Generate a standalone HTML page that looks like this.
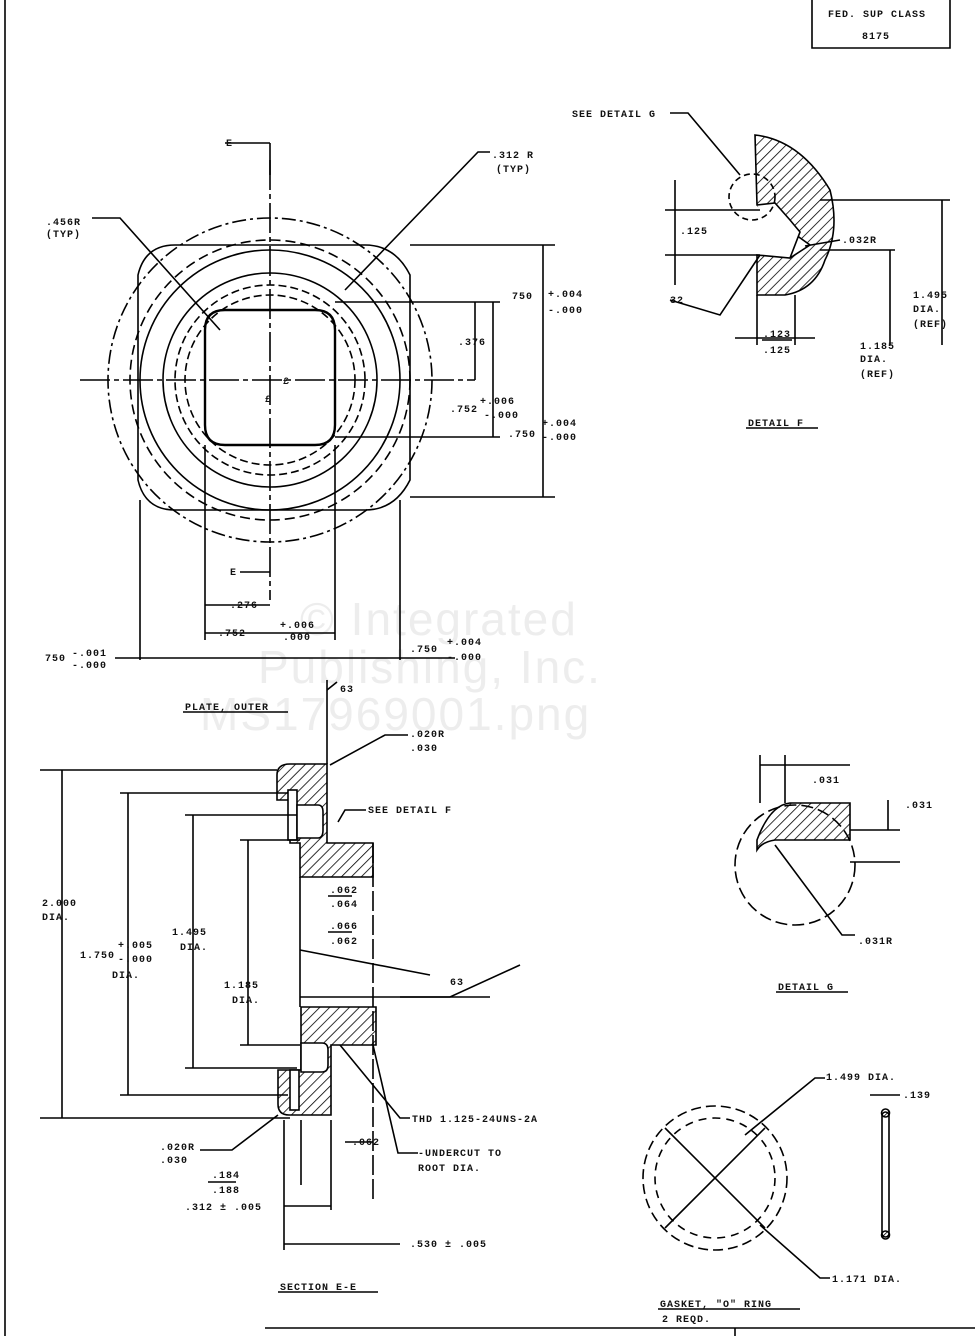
<!DOCTYPE html>
<html><head><style>
html,body{margin:0;padding:0;background:#fff}
svg{display:block}
text{font-family:"Liberation Mono",monospace;font-size:10px;fill:#111;letter-spacing:1px;font-weight:bold}
.wm{font-family:"Liberation Sans",sans-serif;font-size:46px;fill:#ededed;letter-spacing:2px;font-weight:normal}
</style></head><body>
<svg width="975" height="1336" viewBox="0 0 975 1336" xmlns="http://www.w3.org/2000/svg" fill="none" stroke="#000" stroke-width="1.6">
<defs>
<pattern id="h" width="7" height="7" patternUnits="userSpaceOnUse" patternTransform="rotate(45)">
<line x1="0" y1="0" x2="0" y2="7" stroke="#000" stroke-width="1.6"/></pattern>
</defs>
<text class="wm" x="300" y="635" stroke="none">© Integrated</text>
<text class="wm" x="258" y="683" stroke="none">Publishing, Inc.</text>
<text class="wm" x="200" y="730" stroke="none">MS17969001.png</text>

<line x1="5" y1="0" x2="5" y2="1336"/>
<path d="M812 0V48H950V0"/>
<text x="828" y="17" stroke="none">FED. SUP CLASS</text>
<text x="862" y="39" stroke="none">8175</text>
<line x1="265" y1="1328" x2="975" y2="1328"/>
<line x1="735" y1="1328" x2="735" y2="1336"/>

<g>
<circle cx="270" cy="380" r="162" stroke-dasharray="14,4,3,4"/>
<circle cx="270" cy="380" r="130"/>
<path d="M175 245H365Q395 245 410 275V480Q395 510 365 510H175Q145 510 138 480V275Q145 245 175 245Z"/>
<circle cx="270" cy="380" r="107"/>
<circle cx="270" cy="380" r="95" stroke-dasharray="8,4"/>
<circle cx="270" cy="380" r="85" stroke-dasharray="8,4"/>
<circle cx="270" cy="380" r="140" stroke-dasharray="10,5"/>
<path d="M225 310H315Q335 310 335 330V425Q335 445 315 445H225Q205 445 205 425V330Q205 310 225 310Z" stroke-width="2.4"/>
<line x1="80" y1="380" x2="475" y2="380" stroke-dasharray="30,4,5,4"/>
<line x1="270" y1="160" x2="270" y2="600" stroke-dasharray="30,4,5,4"/>
<line x1="225" y1="143" x2="270" y2="143"/><line x1="270" y1="143" x2="270" y2="175"/>
<text x="226" y="146" stroke="none">E</text>
<line x1="240" y1="572" x2="270" y2="572"/><text x="230" y="575" stroke="none">E</text>
<text x="283" y="384" stroke="none">£</text><text x="265" y="402" stroke="none">£</text>
<line x1="410" y1="245" x2="555" y2="245"/><line x1="410" y1="497" x2="555" y2="497"/>
<line x1="543" y1="245" x2="543" y2="497"/>
<line x1="335" y1="302" x2="500" y2="302"/><line x1="335" y1="437" x2="500" y2="437"/>
<line x1="493" y1="302" x2="493" y2="437"/>
<line x1="475" y1="302" x2="475" y2="380"/>
<text x="512" y="299" stroke="none">750</text><text x="548" y="297" stroke="none">+.004</text><text x="548" y="313" stroke="none">-.000</text>
<text x="458" y="345" stroke="none">.376</text>
<text x="450" y="412" stroke="none">.752</text><text x="480" y="404" stroke="none">+.006</text><text x="484" y="418" stroke="none">-.000</text>
<text x="508" y="437" stroke="none">.750</text><text x="542" y="426" stroke="none">+.004</text><text x="542" y="440" stroke="none">-.000</text>
<line x1="205" y1="445" x2="205" y2="640"/><line x1="335" y1="445" x2="335" y2="640"/>
<line x1="140" y1="500" x2="140" y2="660"/><line x1="400" y1="500" x2="400" y2="660"/>
<line x1="205" y1="605" x2="270" y2="605"/><text x="230" y="608" stroke="none">.276</text>
<line x1="205" y1="633" x2="335" y2="633"/><text x="218" y="636" stroke="none">.752</text><text x="280" y="628" stroke="none">+.006</text><text x="283" y="640" stroke="none">.000</text>
<line x1="115" y1="658" x2="455" y2="658"/>
<text x="45" y="661" stroke="none">750</text><text x="72" y="656" stroke="none">-.001</text><text x="72" y="668" stroke="none">-.000</text>
<text x="410" y="652" stroke="none">.750</text><text x="447" y="645" stroke="none">+.004</text><text x="447" y="660" stroke="none">-.000</text>
<text x="46" y="225" stroke="none">.456R</text><text x="46" y="237" stroke="none">(TYP)</text>
<path d="M92 218H120L220 330"/>
<text x="492" y="158" stroke="none">.312 R</text><text x="496" y="172" stroke="none">(TYP)</text>
<path d="M490 152H478L345 290"/>
<text x="185" y="710" stroke="none">PLATE, OUTER</text>
<line x1="183" y1="712" x2="288" y2="712"/>
</g>

<g>
<path d="M277 775Q277 764 290 764H327V843H373V877H300V843H290V800H277Z" fill="url(#h)"/>
<rect x="288" y="790" width="9" height="50" fill="#fff"/>
<path d="M297 805H318Q323 805 323 812V830Q323 838 318 838H297Z" fill="#fff"/>
<path d="M301 1007H376V1045H331V1115H289Q278 1115 278 1104V1070H301Z" fill="url(#h)"/>
<rect x="290" y="1070" width="9" height="40" fill="#fff"/>
<path d="M301 1043H322Q328 1043 328 1050V1065Q328 1072 322 1072H301Z" fill="#fff"/>
<line x1="300" y1="877" x2="300" y2="1007"/>
<line x1="373" y1="843" x2="373" y2="1200" stroke-dasharray="20,4"/>
<line x1="300" y1="997" x2="490" y2="997"/>
<line x1="327" y1="680" x2="327" y2="764"/>
<path d="M327 690L337 682"/><text x="340" y="692" stroke="none">63</text>
<line x1="40" y1="770" x2="277" y2="770"/><line x1="62" y1="770" x2="62" y2="1118"/>
<line x1="40" y1="1118" x2="290" y2="1118"/>
<line x1="120" y1="793" x2="288" y2="793"/><line x1="128" y1="793" x2="128" y2="1095"/><line x1="120" y1="1095" x2="288" y2="1095"/>
<line x1="185" y1="815" x2="297" y2="815"/><line x1="193" y1="815" x2="193" y2="1068"/><line x1="185" y1="1068" x2="297" y2="1068"/>
<line x1="240" y1="840" x2="300" y2="840"/><line x1="248" y1="840" x2="248" y2="1045"/><line x1="240" y1="1045" x2="300" y2="1045"/>
<text x="42" y="906" stroke="none">2.000</text><text x="42" y="920" stroke="none">DIA.</text>
<text x="80" y="958" stroke="none">1.750</text><text x="118" y="948" stroke="none">+.005</text><text x="118" y="962" stroke="none">-.000</text><text x="112" y="978" stroke="none">DIA.</text>
<text x="172" y="935" stroke="none">1.495</text><text x="180" y="950" stroke="none">DIA.</text>
<text x="224" y="988" stroke="none">1.185</text><text x="232" y="1003" stroke="none">DIA.</text>
<text x="330" y="893" stroke="none">.062</text><line x1="328" y1="896" x2="352" y2="896"/><text x="330" y="907" stroke="none">.064</text>
<text x="330" y="929" stroke="none">.066</text><line x1="328" y1="932" x2="352" y2="932"/><text x="330" y="944" stroke="none">.062</text>
<line x1="300" y1="950" x2="430" y2="975"/>
<path d="M400 997L450 997L520 965"/><text x="450" y="985" stroke="none">63</text>
<text x="368" y="813" stroke="none">SEE DETAIL F</text><path d="M366 810H345L338 822"/>
<text x="410" y="737" stroke="none">.020R</text><text x="410" y="751" stroke="none">.030</text>
<path d="M408 735H385L330 765"/>
<text x="160" y="1150" stroke="none">.020R</text><text x="160" y="1163" stroke="none">.030</text>
<path d="M200 1150H232L278 1115"/>
<text x="412" y="1122" stroke="none">THD 1.125-24UNS-2A</text><path d="M410 1118H400L340 1045"/>
<text x="418" y="1156" stroke="none">-UNDERCUT TO</text><text x="418" y="1171" stroke="none">ROOT DIA.</text>
<path d="M418 1153H398L373 1045"/>
<line x1="345" y1="1142" x2="373" y2="1142"/><text x="352" y="1145" stroke="none">.062</text>
<line x1="284" y1="1120" x2="284" y2="1250"/><line x1="301" y1="1120" x2="301" y2="1185"/><line x1="331" y1="1120" x2="331" y2="1210"/>
<text x="212" y="1178" stroke="none">.184</text><line x1="208" y1="1182" x2="236" y2="1182"/><text x="212" y="1193" stroke="none">.188</text>
<text x="185" y="1210" stroke="none">.312 ± .005</text><line x1="284" y1="1206" x2="331" y2="1206"/>
<line x1="284" y1="1244" x2="400" y2="1244"/><text x="410" y="1247" stroke="none">.530 ± .005</text>
<text x="280" y="1290" stroke="none">SECTION E-E</text><line x1="278" y1="1292" x2="378" y2="1292"/>
</g>

<g>
<path d="M755 135Q800 140 830 190Q840 230 825 260Q815 290 785 295H757V255L790 258L810 245L775 220L757 205Z" fill="url(#h)"/>
<path d="M757 205L775 203L790 220L800 232L790 258" fill="#fff"/>
<circle cx="752" cy="197" r="23" stroke-dasharray="6,4"/>
<line x1="665" y1="210" x2="760" y2="210"/><line x1="665" y1="255" x2="760" y2="255"/>
<line x1="675" y1="180" x2="675" y2="285"/><text x="680" y="234" stroke="none">.125</text>
<line x1="820" y1="200" x2="950" y2="200"/><line x1="820" y1="250" x2="895" y2="250"/>
<line x1="942" y1="200" x2="942" y2="345"/><line x1="890" y1="250" x2="890" y2="345"/>
<text x="913" y="298" stroke="none">1.495</text><text x="913" y="312" stroke="none">DIA.</text><text x="913" y="327" stroke="none">(REF)</text>
<text x="860" y="349" stroke="none">1.185</text><text x="860" y="362" stroke="none">DIA.</text><text x="860" y="377" stroke="none">(REF)</text>
<text x="842" y="243" stroke="none">.032R</text><path d="M840 240L805 246"/>
<text x="572" y="117" stroke="none">SEE DETAIL G</text><path d="M670 113H688L740 175"/>
<text x="670" y="303" stroke="none">32</text><path d="M670 300L720 315L760 255"/>
<line x1="757" y1="295" x2="757" y2="345"/><line x1="795" y1="295" x2="795" y2="345"/>
<line x1="735" y1="338" x2="815" y2="338"/>
<text x="763" y="337" stroke="none">.123</text><line x1="762" y1="340" x2="792" y2="340"/><text x="763" y="353" stroke="none">.125</text>
<text x="748" y="426" stroke="none">DETAIL F</text><line x1="746" y1="428" x2="818" y2="428"/>
</g>

<g>
<circle cx="795" cy="865" r="60" stroke-dasharray="12,5"/>
<path d="M757 840Q770 805 790 803H850V840H775Q762 842 757 850Z" fill="url(#h)"/>
<line x1="850" y1="830" x2="900" y2="830"/><line x1="850" y1="862" x2="900" y2="862"/>
<line x1="785" y1="803" x2="785" y2="755"/><line x1="760" y1="803" x2="760" y2="755"/><line x1="760" y1="765" x2="850" y2="765"/>
<text x="812" y="783" stroke="none">.031</text>
<line x1="888" y1="800" x2="888" y2="830"/><text x="905" y="808" stroke="none">.031</text>
<path d="M775 845L842 935H855"/><text x="858" y="944" stroke="none">.031R</text>
<text x="778" y="990" stroke="none">DETAIL G</text><line x1="776" y1="992" x2="848" y2="992"/>
</g>

<g>
<circle cx="715" cy="1178" r="72" stroke-dasharray="10,5"/>
<circle cx="715" cy="1178" r="60" stroke-dasharray="8,6"/>
<line x1="665" y1="1128" x2="765" y2="1228"/><line x1="665" y1="1228" x2="765" y2="1128"/>
<path d="M745 1135L815 1078H825"/><text x="826" y="1080" stroke="none">1.499 DIA.</text>
<path d="M760 1225L820 1278H830"/><text x="832" y="1282" stroke="none">1.171 DIA.</text>
<rect x="882" y="1112" width="7" height="125" rx="3.5"/>
<circle cx="885.5" cy="1113" r="4" fill="url(#h)"/><circle cx="885.5" cy="1235" r="4" fill="url(#h)"/>
<line x1="870" y1="1095" x2="900" y2="1095"/><text x="903" y="1098" stroke="none">.139</text>
<text x="660" y="1307" stroke="none">GASKET, "O" RING</text><line x1="658" y1="1309" x2="800" y2="1309"/>
<text x="662" y="1322" stroke="none">2 REQD.</text>
</g>
</svg>
</body></html>
